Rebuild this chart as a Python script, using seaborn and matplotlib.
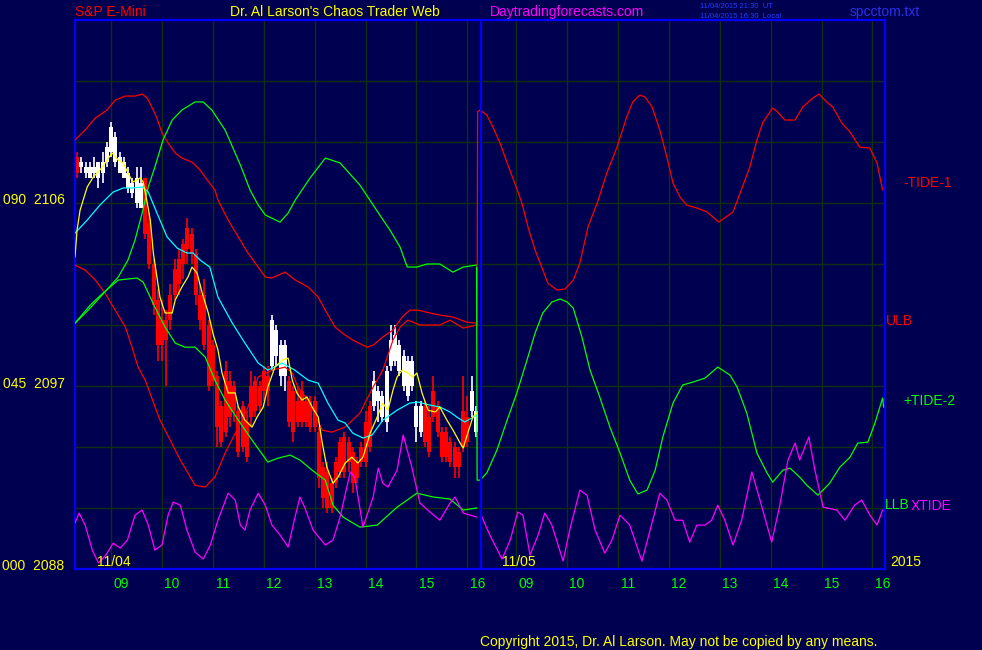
import matplotlib
matplotlib.use("Agg")
import matplotlib.pyplot as plt
import matplotlib.transforms as mtrans
import numpy as np
import seaborn as sns

# ---------------- data ----------------
# 5 minute bars of 11/04 (minutes after midnight, 8:20 ... 16:10)
bar_minutes = list(range(500, 975, 5))

opens = [2108.25, 2107.75, 2107.5, 2107.25, 2107.5, 2107.25, 2107.5, 2108.0, 2108.5, 2108.0,
         2107.5, 2107.25, 2106.75, 2106.5, 2106.0, 2105.75, 2107.25, 2105.0, 2103.0, 2101.25,
         2099.0, 2100.25, 2100.25, 2101.5, 2102.0, 2103.0, 2103.75, 2104.5, 2103.5, 2101.5,
         2101.5, 2100.0, 2099.0, 2097.5, 2096.0, 2097.75, 2097.25, 2097.0, 2095.75, 2096.0,
         2095.25, 2097.0, 2097.25, 2097.0, 2097.75, 2097.5, 2098.0, 2098.5, 2097.5, 2097.5,
         2097.25, 2096.75, 2096.25, 2096.75, 2096.25, 2096.25, 2096.25, 2094.75, 2093.0, 2092.75,
         2092.25, 2093.25, 2094.25, 2094.5, 2094.25, 2093.75, 2093.25, 2094.0, 2095.25, 2096.0,
         2096.0, 2096.25, 2095.5, 2095.25, 2098.0, 2098.25, 2097.75, 2097.0, 2096.5, 2097.0,
         2095.0, 2094.75, 2096.0, 2095.5, 2096.75, 2096.0, 2094.75, 2094.75, 2094.25, 2094.0,
         2093.75, 2095.75, 2095.5, 2095.75, 2094.75]
highs = [2108.5, 2108.25, 2108.0, 2108.0, 2108.25, 2108.0, 2108.5, 2109.0, 2110.0, 2109.5,
         2108.5, 2108.25, 2107.75, 2107.25, 2107.75, 2107.75, 2107.25, 2105.5, 2103.25, 2101.75,
         2101.25, 2100.75, 2102.0, 2103.25, 2103.75, 2104.25, 2105.25, 2104.75, 2103.75, 2102.0,
         2102.25, 2100.25, 2099.25, 2097.75, 2096.25, 2098.25, 2097.75, 2097.25, 2096.0, 2096.25,
         2095.75, 2097.75, 2097.5, 2097.25, 2098.0, 2098.0, 2100.5, 2100.0, 2099.25, 2099.25,
         2097.5, 2097.0, 2097.0, 2097.25, 2096.5, 2096.5, 2096.5, 2095.0, 2093.25, 2093.25,
         2092.5, 2093.5, 2094.5, 2094.75, 2094.5, 2094.0, 2093.5, 2094.25, 2095.75, 2096.25,
         2097.75, 2097.0, 2096.75, 2098.0, 2100.0, 2100.0, 2099.25, 2098.75, 2098.5, 2098.5,
         2096.25, 2096.25, 2096.25, 2096.0, 2097.5, 2096.25, 2095.0, 2095.0, 2094.5, 2094.25,
         2094.0, 2097.5, 2096.5, 2097.5, 2096.0]
lows = [2107.25, 2107.5, 2107.25, 2107.25, 2107.25, 2106.75, 2107.0, 2107.75, 2108.25, 2107.75,
        2107.5, 2107.25, 2106.5, 2106.25, 2105.75, 2105.75, 2104.25, 2102.75, 2100.5, 2098.25,
        2098.25, 2097.0, 2099.75, 2101.25, 2101.5, 2102.25, 2103.0, 2103.0, 2101.0, 2099.75,
        2098.75, 2096.75, 2097.0, 2094.0, 2094.0, 2094.5, 2095.0, 2095.25, 2093.5, 2093.75,
        2093.25, 2095.0, 2095.5, 2095.75, 2096.25, 2096.0, 2097.75, 2098.0, 2097.0, 2096.75,
        2095.0, 2094.25, 2095.0, 2095.0, 2095.0, 2094.75, 2094.75, 2092.0, 2091.0, 2090.75,
        2090.75, 2092.0, 2092.5, 2092.5, 2092.75, 2091.75, 2092.25, 2093.0, 2093.0, 2093.75,
        2095.75, 2095.25, 2095.25, 2094.75, 2097.75, 2098.0, 2097.5, 2096.75, 2096.25, 2096.75,
        2094.25, 2094.5, 2094.0, 2093.5, 2095.25, 2094.5, 2093.25, 2093.25, 2093.0, 2092.5,
        2092.5, 2093.75, 2094.0, 2095.5, 2094.5]
closes = [2107.5, 2108.0, 2107.75, 2107.75, 2107.75, 2108.0, 2108.0, 2108.75, 2109.75, 2109.25,
          2108.25, 2108.0, 2107.5, 2107.0, 2107.25, 2107.0, 2104.5, 2103.0, 2101.0, 2099.0,
          2100.25, 2099.25, 2101.5, 2102.75, 2103.25, 2104.0, 2104.75, 2103.5, 2101.5, 2100.25,
          2099.0, 2097.0, 2097.25, 2095.0, 2094.25, 2094.75, 2095.5, 2095.75, 2093.75, 2094.0,
          2093.5, 2095.5, 2095.75, 2096.0, 2096.75, 2096.75, 2100.25, 2099.75, 2099.0, 2099.0,
          2095.25, 2094.75, 2095.25, 2095.25, 2095.25, 2095.0, 2095.0, 2092.5, 2091.5, 2091.0,
          2091.0, 2092.25, 2092.75, 2092.75, 2093.25, 2092.25, 2092.5, 2093.25, 2093.25, 2094.0,
          2097.25, 2096.75, 2096.5, 2097.75, 2099.25, 2099.5, 2099.0, 2098.5, 2098.25, 2098.25,
          2096.0, 2096.0, 2094.25, 2093.75, 2095.5, 2094.75, 2093.5, 2093.5, 2093.25, 2093.0,
          2093.0, 2094.0, 2094.25, 2096.75, 2095.75]
# bar colour: W = white (rising), R = red (falling)
bar_colors = list("R" "WWWWWWWWWWWWWWW" "RRRRRRRRRRRRRRRRRRRRRRRRRRRRRR" "WWWW"
                  "RRRRRRRRRRRRRRRRRRRR" "WWWWWWWWWWWW" "RRRRRRRRRRR" "WW")

# fast average (yellow)
fast_hr = [8.29, 8.33, 8.39, 8.53, 8.65, 8.78, 8.92, 9.02, 9.14, 9.24, 9.33, 9.43, 9.57, 9.63,
           9.71, 9.77, 9.83, 9.90, 9.96, 10.06, 10.20, 10.26, 10.39, 10.51, 10.59, 10.69, 10.79,
           10.91, 11.00, 11.10, 11.18, 11.30, 11.44, 11.50, 11.63, 11.77, 11.87, 11.99, 12.08,
           12.22, 12.36, 12.48, 12.56, 12.65, 12.75, 12.85, 12.95, 13.07, 13.15, 13.24, 13.36,
           13.46, 13.60, 13.73, 13.85, 13.95, 14.09, 14.23, 14.34, 14.44, 14.54, 14.62, 14.72,
           14.83, 14.93, 15.01, 15.11, 15.23, 15.37, 15.46, 15.60, 15.72, 15.86, 15.92, 16.01,
           16.11, 16.19]
fast_val = [2103.34, 2104.67, 2105.65, 2106.79, 2107.28, 2107.62, 2108.11, 2108.46, 2108.11,
            2107.97, 2107.47, 2107.03, 2107.23, 2107.03, 2106.00, 2105.16, 2103.54, 2102.36,
            2101.37, 2100.59, 2100.59, 2101.23, 2101.87, 2102.36, 2102.85, 2102.55, 2101.57,
            2100.59, 2099.60, 2098.77, 2097.64, 2096.66, 2096.66, 2095.97, 2095.32, 2094.98,
            2095.48, 2095.97, 2096.95, 2097.93, 2098.27, 2098.37, 2097.29, 2096.66, 2096.31,
            2096.46, 2095.97, 2095.48, 2094.19, 2093.01, 2092.22, 2092.52, 2093.21, 2093.50,
            2093.21, 2093.50, 2094.68, 2095.48, 2096.16, 2095.81, 2096.80, 2097.44, 2097.78,
            2097.64, 2097.44, 2097.64, 2096.66, 2095.81, 2095.72, 2095.97, 2095.32, 2094.83,
            2094.19, 2093.95, 2094.68, 2095.48, 2095.67]

# slow average (cyan)
slow_hr = [8.29, 8.53, 8.78, 9.04, 9.24, 9.43, 9.61, 9.73, 9.90, 10.10, 10.30, 10.49, 10.61,
           10.75, 10.94, 11.10, 11.38, 11.63, 11.89, 12.08, 12.36, 12.61, 12.87, 13.07, 13.26,
           13.46, 13.60, 13.75, 13.95, 14.13, 14.34, 14.62, 14.87, 15.03, 15.27, 15.46, 15.66,
           15.82, 15.95, 16.09, 16.19]
slow_val = [2104.52, 2105.16, 2105.90, 2106.54, 2106.74, 2106.74, 2106.79, 2106.54, 2105.51,
            2104.33, 2103.78, 2103.54, 2103.54, 2103.19, 2102.85, 2101.37, 2100.10, 2099.11,
            2098.13, 2097.78, 2098.13, 2097.78, 2097.29, 2097.14, 2096.16, 2095.32, 2095.18,
            2094.68, 2094.44, 2094.59, 2095.32, 2095.81, 2096.16, 2096.21, 2096.06, 2095.97,
            2095.72, 2095.43, 2095.23, 2095.43, 2095.58]

# upper red band line
red_top_hr = [8.29, 8.49, 8.69, 8.92, 9.08, 9.28, 9.47, 9.61, 9.71, 9.81, 9.90, 10.00, 10.12,
              10.26, 10.39, 10.59, 10.75, 10.89, 11.04, 11.10, 11.30, 11.50, 11.69, 11.89, 12.03,
              12.16, 12.42, 12.62, 12.87, 13.07, 13.21, 13.40, 13.60, 13.75, 14.03, 14.15, 14.34,
              14.54, 14.72, 14.87, 15.03, 15.27, 15.46, 15.72, 15.99, 16.19]
red_top_val = [2109.10, 2109.59, 2110.18, 2110.57, 2111.06, 2111.26, 2111.26, 2111.36, 2111.16,
               2110.67, 2110.18, 2109.44, 2108.95, 2108.46, 2108.21, 2108.01, 2107.62, 2107.13,
               2106.64, 2106.15, 2105.16, 2104.33, 2103.54, 2102.85, 2102.36, 2102.31, 2102.60,
               2102.21, 2101.87, 2101.37, 2100.73, 2099.90, 2099.50, 2099.26, 2098.91, 2099.01,
               2099.41, 2099.75, 2100.39, 2100.73, 2100.73, 2100.59, 2100.49, 2100.39, 2100.14,
               2100.09]

# lower red band line (ULB)
red_low_hr = [8.29, 8.49, 8.69, 8.88, 9.08, 9.28, 9.41, 9.53, 9.67, 9.96, 10.36, 10.65, 10.85,
              11.04, 11.24, 11.44, 11.69, 11.83, 11.89, 12.16, 12.42, 12.56, 12.67, 12.87, 13.15,
              13.34, 13.60, 13.89, 14.15, 14.34, 14.54, 14.68, 14.83, 15.07, 15.46, 15.66, 15.92,
              16.19]
red_low_val = [2102.95, 2102.70, 2102.21, 2101.57, 2100.73, 2099.90, 2098.91, 2097.93, 2097.29,
               2095.32, 2093.36, 2092.12, 2092.03, 2092.52, 2093.70, 2094.68, 2095.96, 2096.95,
               2097.44, 2097.78, 2097.93, 2097.64, 2096.95, 2096.31, 2094.83, 2094.73, 2094.98,
               2095.67, 2096.95, 2097.78, 2099.26, 2099.90, 2100.24, 2100.00, 2100.00, 2100.24,
               2099.85, 2100.00]

# upper green band line
grn_top_hr = [8.29, 8.55, 8.82, 9.14, 9.33, 9.47, 9.61, 9.73, 9.86, 10.02, 10.20, 10.39, 10.65,
              10.81, 10.98, 11.24, 11.54, 11.73, 11.89, 12.03, 12.32, 12.48, 12.62, 12.91, 13.21,
              13.50, 13.89, 14.28, 14.48, 14.68, 14.82, 15.01, 15.21, 15.46, 15.72, 15.92, 16.19]
grn_top_val = [2100.09, 2100.73, 2101.47, 2102.36, 2103.19, 2104.18, 2105.51, 2106.79, 2107.77,
               2109.10, 2110.08, 2110.57, 2110.97, 2110.97, 2110.57, 2109.59, 2107.87, 2106.64,
               2105.90, 2105.41, 2105.06, 2105.51, 2106.15, 2107.23, 2108.21, 2107.97, 2106.88,
               2105.41, 2104.67, 2103.83, 2102.85, 2102.85, 2103.00, 2103.00, 2102.60, 2102.85,
               2102.95]

# lower green band line (LLB)
grn_low_hr = [8.29, 8.59, 8.84, 9.14, 9.51, 9.63, 9.86, 10.06, 10.26, 10.45, 10.65, 10.85,
              11.04, 11.24, 11.50, 11.77, 12.08, 12.28, 12.52, 12.71, 12.95, 13.21, 13.36, 13.56,
              13.89, 14.23, 14.62, 15.01, 15.33, 15.66, 15.92, 16.19]
grn_low_val = [2100.09, 2100.98, 2101.57, 2102.21, 2102.31, 2102.11, 2100.88, 2099.90, 2099.11,
               2098.91, 2098.91, 2098.42, 2097.29, 2096.31, 2095.32, 2094.34, 2093.26, 2093.45,
               2093.60, 2093.36, 2092.86, 2092.37, 2091.14, 2090.55, 2090.06, 2090.16, 2091.04,
               2091.73, 2091.54, 2091.44, 2090.90, 2091.00]

# XTIDE, day 1
xt1_hr = [8.29, 8.37, 8.49, 8.63, 8.75, 8.90, 9.04, 9.18, 9.32, 9.47, 9.61, 9.73, 9.86, 10.00,
          10.12, 10.22, 10.36, 10.49, 10.65, 10.81, 10.95, 11.10, 11.30, 11.44, 11.54, 11.63,
          11.73, 11.89, 12.03, 12.16, 12.32, 12.48, 12.60, 12.71, 12.81, 12.97, 13.21, 13.36,
          13.50, 13.70, 13.79, 13.95, 14.15, 14.25, 14.34, 14.44, 14.62, 14.74, 14.91, 15.07,
          15.27, 15.46, 15.66, 15.76, 15.92, 16.19]
xt1_val = [2090.26, 2090.75, 2090.16, 2088.93, 2088.30, 2088.69, 2089.27, 2089.03, 2089.42,
           2090.65, 2090.90, 2090.16, 2088.93, 2089.18, 2090.65, 2091.29, 2091.14, 2089.91,
           2088.83, 2088.49, 2089.18, 2090.40, 2091.73, 2091.39, 2090.16, 2089.91, 2090.90,
           2091.73, 2091.14, 2090.16, 2089.67, 2089.08, 2090.40, 2091.54, 2091.00, 2089.91,
           2089.18, 2089.42, 2090.55, 2092.77, 2092.52, 2090.06, 2091.54, 2092.96, 2092.22,
           2092.03, 2092.86, 2094.59, 2093.01, 2091.24, 2090.80, 2090.40, 2091.24, 2091.54,
           2090.75, 2090.55]

# 11/05 forecast, clock hours
tide1_hr = [8.23, 8.24, 8.29, 8.42, 8.54, 8.68, 8.82, 8.97, 9.11, 9.23, 9.37, 9.50, 9.62, 9.80,
            9.96, 10.12, 10.25, 10.41, 10.59, 10.78, 10.98, 11.17, 11.29, 11.43, 11.53, 11.67,
            11.82, 11.96, 12.08, 12.22, 12.35, 12.55, 12.75, 12.98, 13.26, 13.40, 13.59, 13.73,
            13.85, 14.04, 14.14, 14.28, 14.48, 14.63, 14.83, 14.95, 15.10, 15.22, 15.40, 15.56,
            15.75, 15.95, 16.09, 16.20]
tide1_val = [2100.00, 2110.50, 2110.57, 2110.33, 2109.74, 2108.95, 2107.97, 2106.98, 2106.00,
             2104.82, 2103.69, 2102.85, 2102.06, 2101.72, 2101.77, 2102.21, 2103.05, 2104.82,
             2106.00, 2107.47, 2108.75, 2110.23, 2110.97, 2111.31, 2111.21, 2110.72, 2109.59,
             2108.26, 2106.98, 2106.29, 2105.90, 2105.75, 2105.56, 2105.06, 2105.56, 2106.49,
             2107.77, 2109.10, 2109.98, 2110.67, 2110.47, 2110.08, 2110.08, 2110.72, 2111.16,
             2111.36, 2110.97, 2110.72, 2109.93, 2109.49, 2108.75, 2108.70, 2107.97, 2106.64]

tide2_hr = [8.22, 8.23, 8.29, 8.42, 8.62, 8.82, 9.01, 9.21, 9.37, 9.52, 9.70, 9.86, 10.00, 10.12,
            10.29, 10.45, 10.64, 10.84, 11.04, 11.23, 11.39, 11.57, 11.73, 11.88, 12.08, 12.27,
            12.47, 12.71, 12.96, 13.20, 13.34, 13.53, 13.73, 13.93, 14.04, 14.24, 14.38, 14.57,
            14.71, 14.93, 15.16, 15.36, 15.56, 15.71, 15.91, 16.05, 16.20, 16.22]
tide2_val = [2102.85, 2092.37, 2092.37, 2092.72, 2093.85, 2095.32, 2096.65, 2098.27, 2099.60,
             2100.59, 2101.13, 2101.28, 2101.13, 2100.83, 2099.41, 2097.78, 2096.46, 2094.98,
             2093.70, 2092.37, 2091.69, 2091.88, 2092.86, 2094.49, 2096.16, 2097.05, 2097.19,
             2097.39, 2097.93, 2097.54, 2096.95, 2095.67, 2093.70, 2092.72, 2092.27, 2092.86,
             2092.96, 2092.52, 2092.12, 2091.63, 2092.22, 2093.01, 2093.50, 2094.19, 2094.24,
             2095.18, 2096.41, 2095.96]

xt2_hr = [8.31, 8.48, 8.72, 8.88, 9.03, 9.13, 9.27, 9.43, 9.56, 9.70, 9.92, 10.05, 10.25, 10.39,
          10.55, 10.74, 10.88, 11.04, 11.23, 11.47, 11.63, 11.82, 11.96, 12.12, 12.27, 12.41,
          12.55, 12.71, 12.84, 12.96, 13.10, 13.26, 13.43, 13.63, 13.79, 14.02, 14.18, 14.34,
          14.48, 14.57, 14.75, 14.87, 15.03, 15.30, 15.46, 15.65, 15.79, 15.95, 16.09, 16.20]
xt2_val = [2090.65, 2089.67, 2088.49, 2089.42, 2090.80, 2090.65, 2088.69, 2089.67, 2090.75,
           2090.16, 2088.39, 2089.91, 2091.88, 2091.63, 2089.91, 2088.78, 2089.42, 2090.65,
           2090.16, 2088.39, 2089.91, 2091.73, 2091.39, 2090.40, 2090.40, 2089.32, 2090.16,
           2090.16, 2090.40, 2091.14, 2090.40, 2089.18, 2090.40, 2092.77, 2091.39, 2089.32,
           2091.14, 2093.36, 2094.19, 2093.36, 2094.49, 2092.86, 2091.04, 2090.90, 2090.40,
           2091.14, 2091.39, 2090.65, 2090.16, 2090.90]

hour_labels = ["09", "10", "11", "12", "13", "14", "15", "16"]
price_labels = {2106: "090  2106", 2097: "045  2097", 2088: "000  2088"}

# ---------------- layout ----------------
W, H = 982, 650
BG = "#000050"
GRID = "#0f300f"
DAY2 = 7.963          # 11/05 clock hour -> axis position
X0, X1 = 8.29, 24.21
Y0, Y1 = 2088, 2115

sns.set_theme(style="dark", rc={"axes.facecolor": BG, "figure.facecolor": BG})
plt.rcParams["font.family"] = ["Liberation Sans", "DejaVu Sans"]

fig = plt.figure(figsize=(W / 100, H / 100), dpi=100)
ax = fig.add_axes([75 / W, 1 - 569 / H, 810 / W, 549 / H])
ax.set_facecolor(BG)
ax.set_xlim(X0, X1)
ax.set_ylim(Y0, Y1)

# grid
hour_pos = list(range(9, 17)) + [h + DAY2 for h in range(9, 17)]
ax.set_xticks(hour_pos)
ax.set_xticklabels(hour_labels + hour_labels)
ax.set_yticks(list(range(2088, 2115, 3)))
ax.set_yticklabels([price_labels.get(v, "") for v in range(2088, 2115, 3)])
ax.grid(True, color=GRID, lw=1.0)
ax.tick_params(axis="x", direction="out", length=8, width=1, color=GRID,
               labelsize=10, pad=-2)
for lab in ax.get_xticklabels():
    lab.set_color("#00FF00")
    lab.set_transform(lab.get_transform() + mtrans.ScaledTranslation(0.10, 0, fig.dpi_scale_trans))
ax.tick_params(axis="y", direction="out", length=3, width=1, color="#00A000",
               labelsize=10, pad=4.5)
for lab in ax.get_yticklabels():
    lab.set_color("#FFFF00")
    lab.set_transform(lab.get_transform() + mtrans.ScaledTranslation(0, 0.04, fig.dpi_scale_trans))
for sp in ax.spines.values():
    sp.set_color("#0000FF")
    sp.set_linewidth(1.6)
    sp.set_visible(True)

# candles
bar_hr = np.array(bar_minutes) / 60.0
for t, o, h, l, c, k in zip(bar_hr, opens, highs, lows, closes, bar_colors):
    col = "#FFFFFF" if k == "W" else "#FF0000"
    ax.vlines(t, l, h, color=col, lw=1.2, zorder=2)
    lo, hi = min(o, c), max(o, c)
    ax.bar(t, max(hi - lo, 0.15), bottom=lo, width=0.078, color=col, lw=0, zorder=2)

# lines
day2 = lambda hrs: [h + DAY2 for h in hrs]
lines = [
    (red_top_hr, red_top_val, "#FF0000"),
    (red_low_hr, red_low_val, "#FF0000"),
    (grn_top_hr, grn_top_val, "#00FF00"),
    (grn_low_hr, grn_low_val, "#00FF00"),
    (xt1_hr, xt1_val, "#FF00FF"),
    (day2(tide1_hr), tide1_val, "#FF0000"),
    (day2(tide2_hr), tide2_val, "#00FF00"),
    (day2(xt2_hr), xt2_val, "#FF00FF"),
    (slow_hr, slow_val, "#00FFFF"),
    (fast_hr, fast_val, "#FFFF00"),
]
for xs, ys, col in lines:
    sns.lineplot(x=xs, y=ys, color=col, lw=0.9, sort=False, estimator=None, ax=ax, zorder=3)

ax.axvline(16.27, color="#0000FF", lw=1.6, zorder=4)
ax.set_xlabel("")
ax.set_ylabel("")

# texts
def ftxt(x, y, s, col, size=10, **kw):
    fig.text(x / W, 1 - y / H, s, color=col, fontsize=size, va="center", ha="left", **kw)

ftxt(75, 12, "S&P E-Mini", "#FF0000")
ftxt(230, 12, "Dr. Al Larson's Chaos Trader Web", "#FFFF00")
ftxt(490, 12, "Daytradingforecasts.com", "#FF00FF")
ftxt(700, 6, "11/04/2015 21:30  UT", "#2040FF", size=5.5)
ftxt(700, 16, "11/04/2015 16:30  Local", "#2040FF", size=5.5)
ftxt(850, 12, "spcctom.txt", "#2830E8")
ftxt(97, 562, "11/04", "#FFFF00")
ftxt(502, 562, "11/05", "#FFFF00")
ftxt(890, 562, "2015", "#FFFF00")
ftxt(903, 183, "-TIDE-1", "#FF0000")
ftxt(886, 321, "ULB", "#FF0000")
ftxt(903, 401, "+TIDE-2", "#00FF00")
ftxt(885, 505, "LLB", "#00FF00")
ftxt(911, 506, "XTIDE", "#FF00FF")
ftxt(480, 642, "Copyright 2015, Dr. Al Larson. May not be copied by any means.", "#FFFF00")

fig.savefig("out.png", dpi=100, facecolor=BG)
